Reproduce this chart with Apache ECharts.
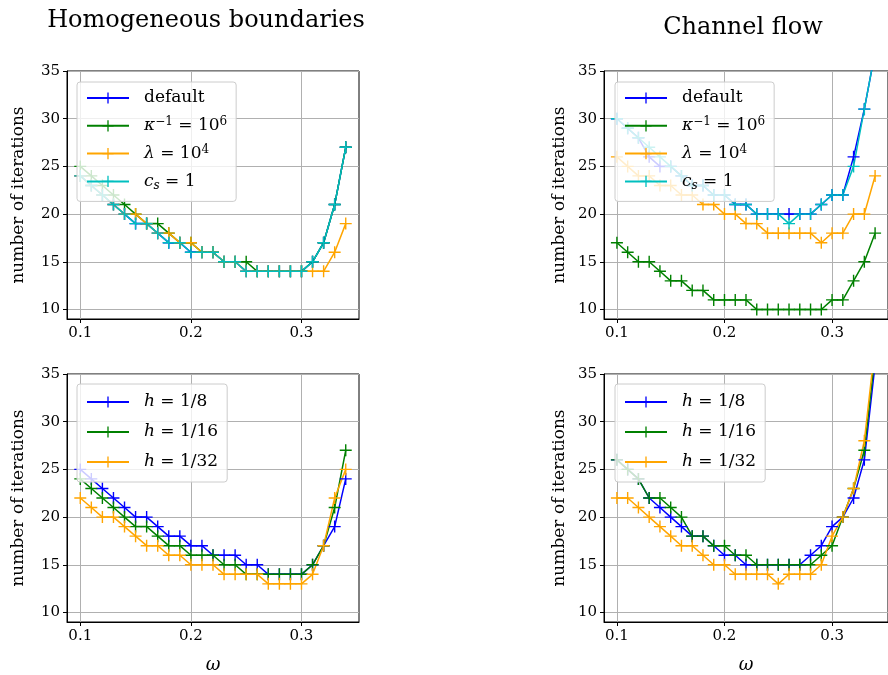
<!DOCTYPE html>
<html><head><meta charset="utf-8">
<script src="https://cdn.jsdelivr.net/npm/echarts@6/dist/echarts.min.js"></script>
<style>html,body{margin:0;padding:0;background:#fff}#c{width:888px;height:675px}</style>
</head><body><div id="c"></div>
<script>
// ---------- data ----------
const omega = [0.10,0.11,0.12,0.13,0.14,0.15,0.16,0.17,0.18,0.19,0.20,0.21,0.22,0.23,0.24,0.25,0.26,0.27,0.28,0.29,0.30,0.31,0.32,0.33,0.34];
const xTicks = [0.1, 0.2, 0.3];
const yTicks = [10, 15, 20, 25, 30, 35];

// Homogeneous boundaries – parameter variants
const homDefault = [24,23,22,21,20,19,19,18,17,17,16,16,16,15,15,14,14,14,14,14,14,15,17,21,27];
const homKappa   = [25,24,23,22,21,20,19,19,18,17,17,16,16,15,15,15,14,14,14,14,14,15,17,21,27];
const homLambda  = [24,23,22,21,20,20,19,18,18,17,17,16,16,15,15,14,14,14,14,14,14,14,14,16,19];
const homCs      = [24,23,22,21,20,19,19,18,17,17,16,16,16,15,15,14,14,14,14,14,14,15,17,21,27];

// Channel flow – parameter variants
const chDefault  = [30,29,28,26,25,25,24,23,23,22,22,21,21,20,20,20,20,20,20,21,22,22,26,31,37];
const chKappa    = [17,16,15,15,14,13,13,12,12,11,11,11,11,10,10,10,10,10,10,10,11,11,13,15,18];
const chLambda   = [26,25,24,24,23,23,22,22,21,21,20,20,19,19,18,18,18,18,18,17,18,18,20,20,24];
const chCs       = [30,29,28,27,26,25,24,23,23,22,22,21,21,20,20,20,19,20,20,21,22,22,25,31,37];

// Homogeneous boundaries – mesh sizes
const homH8  = [25,24,23,22,21,20,20,19,18,18,17,17,16,16,16,15,15,14,14,14,14,15,17,19,24];
const homH16 = [24,23,22,21,20,19,19,18,17,17,16,16,16,15,15,14,14,14,14,14,14,15,17,21,27];
const homH32 = [22,21,20,20,19,18,17,17,16,16,15,15,15,14,14,14,14,13,13,13,13,14,17,22,25];

// Channel flow – mesh sizes
const chH8  = [26,25,24,22,21,20,19,18,18,17,16,16,15,15,15,15,15,15,16,17,19,20,22,26,36];
const chH16 = [26,25,24,22,22,21,20,18,18,17,17,16,16,15,15,15,15,15,15,16,17,20,23,27,37];
const chH32 = [22,22,21,20,19,18,17,17,16,15,15,14,14,14,14,13,14,14,14,15,18,20,23,28,38];

const titles = ['Homogeneous boundaries', 'Channel flow'];
const yLabel = 'number of iterations';
const xLabel = 'ω';

// ---------- styling / layout ----------
const SERIF = '"DejaVu Serif", "Liberation Serif", serif';
const C = {b:'#0000ff', g:'#008000', o:'#ffa500', c:'#00bfbf'};
const PLUS = 'path://M5.3,0H6.7V5.3H12V6.7H6.7V12H5.3V6.7H0V5.3H5.3Z';
const grids = [
  {left:67, top:71, width:292, height:248},
  {left:604, top:71, width:292, height:248},
  {left:67, top:374, width:292, height:248},
  {left:604, top:374, width:292, height:248}
];

const labelMap = {
  'tl_def':'default', 'tl_kap':'{i|κ}{sup|−1} = 10{sup|6}', 'tl_lam':'{i|λ} = 10{sup|4}', 'tl_cs':'{i|c}{sub|s} = 1',
  'tr_def':'default', 'tr_kap':'{i|κ}{sup|−1} = 10{sup|6}', 'tr_lam':'{i|λ} = 10{sup|4}', 'tr_cs':'{i|c}{sub|s} = 1',
  'bl_8':'{i|h} = 1/8', 'bl_16':'{i|h} = 1/16', 'bl_32':'{i|h} = 1/32',
  'br_8':'{i|h} = 1/8', 'br_16':'{i|h} = 1/16', 'br_32':'{i|h} = 1/32'
};

function mk(name, vals, color, g) {
  return {
    type:'line', name:name, xAxisIndex:g, yAxisIndex:g,
    data: omega.map((x,i)=>[x, vals[i]]),
    symbol: PLUS, symbolSize: 12, showSymbol:true, showAllSymbol:true,
    itemStyle:{color:color}, lineStyle:{color:color, width:1.5},
    clip:true, silent:true, animation:false
  };
}

const series = [
  mk('tl_def', homDefault, C.b, 0), mk('tl_kap', homKappa, C.g, 0), mk('tl_lam', homLambda, C.o, 0), mk('tl_cs', homCs, C.c, 0),
  mk('tr_def', chDefault, C.b, 1), mk('tr_kap', chKappa, C.g, 1), mk('tr_lam', chLambda, C.o, 1), mk('tr_cs', chCs, C.c, 1),
  mk('bl_8', homH8, C.b, 2), mk('bl_16', homH16, C.g, 2), mk('bl_32', homH32, C.o, 2),
  mk('br_8', chH8, C.b, 3), mk('br_16', chH16, C.g, 3), mk('br_32', chH32, C.o, 3)
];

function xAxis(g) {
  const bottom = g >= 2;
  return {
    type:'value', gridIndex:g, min:0.088, max:0.352,
    axisLine:{show:true, onZero:false, lineStyle:{color:'#000', width:1}},
    axisTick:{show:true, inside:false, length:4, lineStyle:{color:'#000', width:1}, customValues:xTicks},
    axisLabel:{customValues:xTicks, formatter:v=>v.toFixed(1), margin:7, fontFamily:SERIF, fontSize:15, color:'#000'},
    splitLine:{show:true, lineStyle:{color:'#b0b0b0', width:1}},
    name: bottom ? xLabel : '', nameLocation:'middle', nameGap:34,
    nameTextStyle:{fontFamily:SERIF, fontStyle:'italic', fontSize:18, color:'#000'}
  };
}
function yAxis(g) {
  return {
    type:'value', gridIndex:g, min:9, max:35,
    axisLine:{show:true, onZero:false, lineStyle:{color:'#000', width:1}},
    axisTick:{show:true, inside:false, length:4, lineStyle:{color:'#000', width:1}, customValues:yTicks},
    axisLabel:{customValues:yTicks, margin:7, fontFamily:SERIF, fontSize:15, color:'#000'},
    splitLine:{show:true, lineStyle:{color:'#b0b0b0', width:1}},
    name: yLabel, nameLocation:'middle', nameRotate:90, nameGap: (g % 2 === 0) ? 40 : 36,
    nameTextStyle:{fontFamily:SERIF, fontSize:17, color:'#000'}
  };
}

const richStyles = {
  i:{fontFamily:SERIF, fontStyle:'italic', fontSize:17, lineHeight:20, color:'#000'},
  sup:{fontFamily:SERIF, fontSize:12, lineHeight:10, verticalAlign:'top', color:'#000'},
  sub:{fontFamily:SERIF, fontStyle:'italic', fontSize:12, lineHeight:12, verticalAlign:'bottom', color:'#000'}
};
function legend(left, top, names, gap, pad) {
  return {
    orient:'vertical', left:left, top:top, data:names,
    itemWidth:42, itemHeight:14, itemGap:gap, padding:pad,
    backgroundColor:'rgba(255,255,255,0.8)', borderColor:'#cccccc', borderWidth:1, borderRadius:3,
    selectedMode:false,
    formatter: n => labelMap[n],
    textStyle:{fontFamily:SERIF, fontSize:17, lineHeight:20, color:'#000', padding:[0,0,0,10], rich:richStyles}
  };
}

const option = {
  backgroundColor:'#fff',
  animation:false,
  grid: grids.map(g => Object.assign({show:true, borderColor:'#000', borderWidth:1, backgroundColor:'rgba(0,0,0,0)'}, g)),
  xAxis: [0,1,2,3].map(xAxis),
  yAxis: [0,1,2,3].map(yAxis),
  legend: [
    legend(77, 82, ['tl_def','tl_kap','tl_lam','tl_cs'], 7.8, [6,9,10,9]),
    legend(615, 82, ['tr_def','tr_kap','tr_lam','tr_cs'], 7.8, [6,9,10,9]),
    legend(77, 384, ['bl_8','bl_16','bl_32'], 10, [8,9,10,9]),
    legend(615, 384, ['br_8','br_16','br_32'], 10, [8,9,10,9])
  ],
  graphic: [
    {type:'text', x:206, y:21, style:{text:titles[0], font:'24px ' + SERIF, fill:'#000', align:'center', verticalAlign:'middle'}},
    {type:'text', x:743, y:28, style:{text:titles[1], font:'24px ' + SERIF, fill:'#000', align:'center', verticalAlign:'middle'}}
  ],
  series: series
};

const chart = echarts.init(document.getElementById('c'), null, {renderer:'canvas'});
chart.setOption(option);
</script>
</body></html>
